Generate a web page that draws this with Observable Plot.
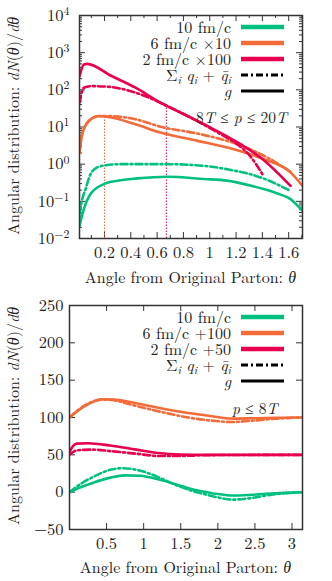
<!DOCTYPE html>
<html><head><meta charset="utf-8">
<script src="https://cdn.jsdelivr.net/npm/d3@7"></script>
<script src="https://cdn.jsdelivr.net/npm/@observablehq/plot@0.6"></script>
<style>
body{margin:0;background:#fff;}
#wrap{position:relative;width:332px;height:581px;font-family:"Latin Modern Roman","Liberation Serif",serif;color:#222;overflow:hidden;}
.panel{position:absolute;left:0;width:332px;height:290px;}
.panel svg{position:absolute;left:0;top:0;}
.ylab{position:absolute;width:240px;left:-107px;height:18px;line-height:18px;text-align:center;transform:rotate(-90deg);white-space:nowrap;font-size:16px;}
.xlab{position:absolute;width:260px;height:18px;line-height:18px;text-align:center;white-space:nowrap;font-size:16px;}
.note{position:absolute;height:18px;line-height:18px;white-space:nowrap;font-size:15.5px;}
.leg{position:absolute;left:31px;width:260px;}
.row{position:relative;height:16px;}
.row .t{position:absolute;right:60px;top:0;height:16px;line-height:16px;font-size:16px;white-space:nowrap;}
.row svg{position:absolute;left:210px;top:4px;}
sub{font-size:70%;vertical-align:-0.25em;line-height:0;}
</style></head>
<body><div id="wrap"></div>
<script>
// ---------- data ----------
const green = "#00c080", orange = "#f26b38", red = "#e8004e";

// top panel: 8T <= p <= 20T (log scale)
const top_g10_x = [0.01,0.043,0.094,0.195,0.3,0.449,0.677,0.955,1.133,1.3,1.41,1.52,1.614,1.705];
const top_g10_y = [0.022,0.062,0.157,0.291,0.36,0.414,0.457,0.40,0.36,0.27,0.214,0.16,0.115,0.055];
const top_q10_x = [0.01,0.03,0.056,0.094,0.144,0.2,0.32,0.677,0.955,1.133,1.386,1.614];
const top_q10_y = [0.045,0.11,0.214,0.54,0.82,0.92,1.0,1.0,0.9,0.73,0.44,0.19];
const top_g6_x = [0.01,0.03,0.081,0.157,0.233,0.436,0.626,0.9,1.133,1.411,1.614,1.705];
const top_g6_y = [2.06,6.4,14.5,19.7,18.5,11.8,7.08,4.3,2.8,1.36,0.6,0.26];
const top_q6_x = [0.01,0.03,0.081,0.157,0.22,0.436,0.626,0.93,1.209,1.437,1.614];
const top_q6_y = [2.06,6.4,14.5,19.5,19.7,16.1,10.2,6.4,3.44,1.51,0.62];
const top_g2_x = [0.01,0.043,0.068,0.25,0.436,0.626,0.677,1.006,1.234,1.386,1.614];
const top_g2_y = [230,480,500,239,114,45.1,36.6,9.6,3.44,1.51,0.26];
const top_q2_x = [0.01,0.043,0.106,0.23,0.436,0.677,1.082,1.209,1.295,1.40];
const top_q2_y = [45,114,126,121,84,36.6,6.4,3.44,1.85,0.54];
const markX = [0.2, 0.67];
const markTop = [19.5, 37];
const markColor = [orange, red];
const topXTicks = [0.2,0.4,0.6,0.8,1,1.2,1.4,1.6];
const topXMinor = [0.1,0.3,0.5,0.7,0.9,1.1,1.3,1.5,1.7];
const topYTicks = [0.01,0.1,1,10,100,1000,10000];
const topYExp = ["−2","−1","0","1","2","3","4"];

// bottom panel: p <= 8T (linear scale)
const bot_g10_x = [0,0.15,0.33,0.55,0.75,0.95,1.22,1.45,1.63,1.85,2.0,2.2,2.45,2.65,2.9,3.1416];
const bot_g10_y = [0,6.5,13,19.5,22.5,22,16.5,10,4.5,0,-2.5,-4.5,-3.5,-2.2,-1,0];
const bot_q10_x = [0,0.15,0.33,0.55,0.7,0.9,1.1,1.22,1.45,1.63,1.85,2.0,2.2,2.4,2.65,2.9,3.1416];
const bot_q10_y = [0,11,21,30,32,30,24,19,9,2.5,-3.5,-7,-10,-8.5,-4.5,-1.5,0];
const bot_g6_x = [0,0.2,0.45,0.6,0.8,1.0,1.3,1.6,1.9,2.2,2.5,2.8,3.1416];
const bot_g6_y = [100,115,124.5,124,121,117,111,106,102,98.5,99,99.5,100];
const bot_q6_x = [0,0.2,0.45,0.6,0.8,1.0,1.3,1.6,1.9,2.2,2.5,2.8,3.1416];
const bot_q6_y = [100,116,124,123,118,113,106,100,96,94,96,98.5,100];
const bot_g2_x = [0,0.05,0.1,0.25,0.55,0.9,1.2,1.5,1.8,2.5,3.1416];
const bot_g2_y = [54,62,65,65.5,62.5,57,52.5,50.5,50,50,50];
const bot_q2_x = [0,0.1,0.3,0.55,0.9,1.2,1.5,1.8,2.2,3.1416];
const bot_q2_y = [50,56,57,55,51.5,48.5,48.5,49.5,49.8,50];
const botXTicks = [0.5,1,1.5,2,2.5,3];
const botYTicks = [-50,0,50,100,150,200,250];

const legTopLabels = ["10 fm/c","6 fm/c ×10","2 fm/c ×100"];
const legBotLabels = ["10 fm/c","6 fm/c +100","2 fm/c +50"];
const legColors = [green, orange, red];
// ---------- helpers ----------
const pts = (xs, ys) => xs.map((x, i) => ({x, y: ys[i]}));
const DASH = "7,3,2,3";
const frameC = "#333";
function tickMarks(xMajor, xMinor, yMajor, yMinor, innerW, innerH) {
  const m = [];
  const s = {stroke: frameC, strokeWidth: 1};
  m.push(Plot.tickX(xMajor, {x: d => d, insetTop: innerH - 6, ...s}));
  m.push(Plot.tickX(xMajor, {x: d => d, insetBottom: innerH - 6, ...s}));
  m.push(Plot.tickY(yMajor, {y: d => d, insetRight: innerW - 6, ...s}));
  m.push(Plot.tickY(yMajor, {y: d => d, insetLeft: innerW - 6, ...s}));
  if (xMinor.length) {
    m.push(Plot.tickX(xMinor, {x: d => d, insetTop: innerH - 3, ...s}));
    m.push(Plot.tickX(xMinor, {x: d => d, insetBottom: innerH - 3, ...s}));
  }
  if (yMinor.length) {
    m.push(Plot.tickY(yMinor, {y: d => d, insetRight: innerW - 3, ...s}));
    m.push(Plot.tickY(yMinor, {y: d => d, insetLeft: innerW - 3, ...s}));
  }
  return m;
}
function curve(xs, ys, color, dashed) {
  return Plot.line(pts(xs, ys), {x: "x", y: "y", stroke: color, strokeWidth: 2.6,
    strokeDasharray: dashed ? DASH : null, curve: "monotone-x", clip: true});
}
const style = {fontFamily: "Latin Modern Roman, Liberation Serif, serif", fontSize: "16.5px", color: "#222", background: "transparent", overflow: "visible"};

// ---------- top plot ----------
const topMinorY = [];
for (let e = -2; e < 4; e++) for (let k = 2; k <= 9; k++) topMinorY.push(k * Math.pow(10, e));
const W = 332, H = 290;
const topPlot = Plot.plot({
  width: W, height: H, marginLeft: 79, marginRight: 30, marginTop: 15, marginBottom: 52,
  style,
  x: {domain: [0.01, 1.705], ticks: topXTicks, tickSize: 0, tickPadding: 8, tickFormat: d => String(d), label: null},
  y: {type: "log", domain: [0.01, 10000], ticks: topYTicks, tickSize: 0, tickPadding: 10,
      tickFormat: d => "10^" + topYExp[topYTicks.indexOf(d)], label: null},
  marks: [
    ...tickMarks(topXTicks, topXMinor, topYTicks, topMinorY, 223, 223),
    Plot.ruleX(markX.map((x, i) => ({x, top: markTop[i], c: markColor[i]})),
      {x: "x", y1: 0.01, y2: "top", stroke: "c", strokeWidth: 1, strokeDasharray: "1.5,1.5"}),
    curve(top_g10_x, top_g10_y, green, false),
    curve(top_q10_x, top_q10_y, green, true),
    curve(top_g6_x, top_g6_y, orange, false),
    curve(top_q6_x, top_q6_y, orange, true),
    curve(top_q2_x, top_q2_y, red, true),
    curve(top_g2_x, top_g2_y, red, false),
    Plot.frame({stroke: frameC, strokeWidth: 1.5})
  ]
});
// turn "10^e" tick labels into 10 with a superscript exponent
d3.select(topPlot).selectAll("text").each(function () {
  const t = this.textContent;
  if (/^10\^/.test(t)) {
    const e = t.slice(3);
    const s = d3.select(this);
    s.text("10");
    s.append("tspan").attr("dy", "-0.5em").attr("font-size", "72%").text(e);
  }
});

// ---------- bottom plot ----------
const botPlot = Plot.plot({
  width: W, height: 291, marginLeft: 69, marginRight: 30, marginTop: 15, marginBottom: 52,
  style,
  x: {domain: [0, Math.PI], ticks: botXTicks, tickSize: 0, tickPadding: 8, tickFormat: d => String(d), label: null},
  y: {domain: [-50, 250], ticks: botYTicks, tickSize: 0, tickPadding: 6,
      tickFormat: d => d < 0 ? "−" + (-d) : String(d), label: null},
  marks: [
    ...tickMarks(botXTicks, [], botYTicks, [], 233, 224),
    curve(bot_g10_x, bot_g10_y, green, false),
    curve(bot_q10_x, bot_q10_y, green, true),
    curve(bot_g6_x, bot_g6_y, orange, false),
    curve(bot_q6_x, bot_q6_y, orange, true),
    curve(bot_g2_x, bot_g2_y, red, false),
    curve(bot_q2_x, bot_q2_y, red, true),
    Plot.frame({stroke: frameC, strokeWidth: 1.5})
  ]
});

// ---------- assemble ----------
const wrap = document.getElementById("wrap");
function legendRows(labels) {
  const rows = labels.map((l, i) => ({html: l, color: legColors[i], dash: null, w: 4.5}));
  rows.push({html: "Σ<sub><i>i</i></sub> <i>q<sub>i</sub></i> + <i>q̄<sub>i</sub></i>", color: "#000", dash: DASH, w: 3});
  rows.push({html: "<i>g</i>", color: "#000", dash: null, w: 3});
  return rows.map(r => `<div class="row"><span class="t">${r.html}</span><svg width="43" height="8"><line x1="0" x2="43" y1="4" y2="4" stroke="${r.color}" stroke-width="${r.w}" ${r.dash ? `stroke-dasharray="${r.dash}"` : ""}/></svg></div>`).join("");
}
function panel(topPx, plot, legLabels, noteHTML, noteStyle, xlabCx) {
  const p = document.createElement("div");
  p.className = "panel"; p.style.top = topPx + "px";
  p.appendChild(plot);
  p.insertAdjacentHTML("beforeend",
    `<div class="ylab" style="top:${126 - 9}px">Angular distribution: <i>dN</i>(<i>θ</i>)/<i>dθ</i></div>` +
    `<div class="xlab" style="left:${xlabCx - 130}px;top:${277 - 9}px">Angle from Original Parton: <i>θ</i></div>` +
    `<div class="note" style="${noteStyle}">${noteHTML}</div>` +
    `<div class="leg" style="top:19px">${legendRows(legLabels)}</div>`);
  wrap.appendChild(p);
}
panel(0, topPlot, legTopLabels, "8<i>T</i> ≤ <i>p</i> ≤ 20<i>T</i>", "right:45px;top:108px", 190.5);
panel(290, botPlot, legBotLabels, "<i>p</i> ≤ 8<i>T</i>", "left:232px;top:109px", 185.5);
</script></body></html>
